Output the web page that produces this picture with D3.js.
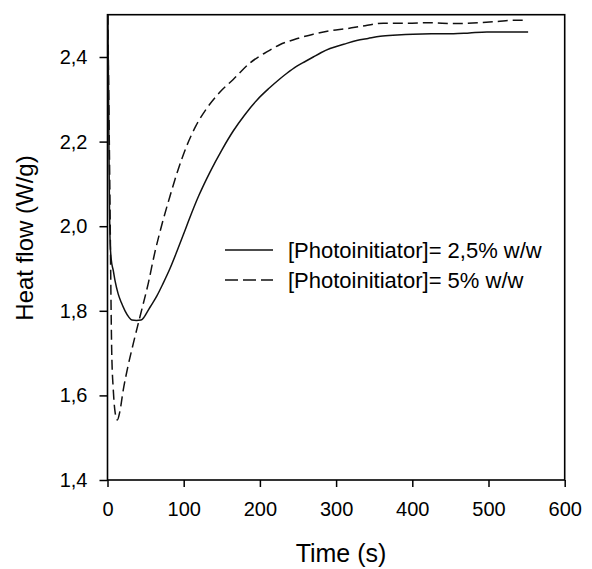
<!DOCTYPE html>
<html>
<head>
<meta charset="utf-8">
<script src="https://cdn.jsdelivr.net/npm/d3@7"></script>
<style>
  html, body { margin: 0; padding: 0; background: #fff; }
  svg { display: block; font-family: "Liberation Sans", Arial, sans-serif; }
</style>
</head>
<body>
<svg id="chart" width="592" height="569"></svg>
<script>
// ---- data ----
const solidTime = [0.5, 1.5, 2.5, 3.5, 5, 7.6, 10, 14, 18, 23, 28, 32, 38, 44, 48, 52, 56, 65, 73, 82, 91, 100, 108, 120, 134.5, 150, 165, 180, 196, 212, 226, 235, 248, 260, 270, 280, 292, 310, 327, 342, 358, 380, 401, 425, 454, 475, 498, 520, 552];
const solidHeat = [2.50, 2.28, 2.06, 1.96, 1.92, 1.895, 1.87, 1.84, 1.82, 1.80, 1.785, 1.778, 1.777, 1.778, 1.785, 1.797, 1.809, 1.836, 1.865, 1.900, 1.940, 1.982, 2.020, 2.073, 2.128, 2.180, 2.225, 2.263, 2.298, 2.326, 2.348, 2.361, 2.378, 2.390, 2.400, 2.410, 2.420, 2.430, 2.439, 2.444, 2.449, 2.452, 2.454, 2.455, 2.455, 2.457, 2.459, 2.459, 2.459];

const dashedTime = [0.5, 3, 5.5, 7.6, 10, 12.9, 16, 20.7, 27, 33.9, 42.6, 53.5, 62, 72, 82, 92, 104, 116, 130, 147, 165, 187, 209, 226, 248, 270, 292, 314, 338, 362, 392, 423, 455, 489, 512, 532, 550];
const dashedHeat = [2.50, 2.10, 1.707, 1.613, 1.560, 1.542, 1.560, 1.613, 1.670, 1.723, 1.786, 1.865, 1.937, 2.008, 2.071, 2.130, 2.190, 2.237, 2.278, 2.316, 2.347, 2.386, 2.412, 2.429, 2.443, 2.454, 2.462, 2.467, 2.474, 2.480, 2.480, 2.481, 2.479, 2.481, 2.484, 2.487, 2.487];

const seriesNames = ["[Photoinitiator]= 2,5% w/w", "[Photoinitiator]= 5% w/w"];
const xTicks = [0, 100, 200, 300, 400, 500, 600];
const yTicks = [1.4, 1.6, 1.8, 2.0, 2.2, 2.4];
const xDomain = [0, 600];
const yDomain = [1.4, 2.5];
const xTitle = "Time (s)";
const yTitle = "Heat flow (W/g)";

// ---- layout ----
const svg = d3.select("#chart");
const L = 107.5, R = 564.7, T = 14.7, B = 480;
const x = d3.scaleLinear().domain(xDomain).range([L, R]);
const y = d3.scaleLinear().domain(yDomain).range([B, T]);

svg.append("defs").append("clipPath").attr("id", "plotclip")
  .append("rect").attr("x", L).attr("y", T).attr("width", R - L).attr("height", B - T);

const fmt = d => d.toFixed(1).replace(".", ",");

const xAxis = svg.append("g").attr("transform", `translate(0,${B})`)
  .call(d3.axisBottom(x).tickValues(xTicks).tickSize(7).tickSizeOuter(0).tickPadding(15).tickFormat(d3.format("d")));
const yAxis = svg.append("g").attr("transform", `translate(${L},0)`)
  .call(d3.axisLeft(y).tickValues(yTicks).tickSize(8).tickSizeOuter(0).tickPadding(12).tickFormat(fmt));

[xAxis, yAxis].forEach(g => {
  g.select(".domain").remove();
  g.selectAll(".tick line").attr("stroke", "#000").attr("stroke-width", 1.5);
  g.selectAll(".tick text").attr("fill", "#000").style("font-size", "20px")
    .style("font-family", "'Liberation Sans', Arial, sans-serif");
});

// frame
svg.append("rect").attr("x", L).attr("y", T).attr("width", R - L).attr("height", B - T)
  .attr("fill", "none").attr("stroke", "#000").attr("stroke-width", 1.6);

// lines
const line = d3.line().x(d => x(d[0])).y(d => y(d[1])).curve(d3.curveMonotoneX);
const solidData = solidTime.map((t, i) => [t, solidHeat[i]]);
const dashedData = dashedTime.map((t, i) => [t, dashedHeat[i]]);

const plot = svg.append("g").attr("clip-path", "url(#plotclip)");
plot.append("path").datum(solidData).attr("d", line)
  .attr("fill", "none").attr("stroke", "#111").attr("stroke-width", 1.5);
plot.append("path").datum(dashedData).attr("d", line)
  .attr("fill", "none").attr("stroke", "#111").attr("stroke-width", 1.5)
  .attr("stroke-dasharray", "10,5");

// legend
const legend = svg.append("g");
[0, 1].forEach(i => {
  const yy = 250 + i * 30;
  legend.append("line").attr("x1", 225).attr("x2", 273).attr("y1", yy).attr("y2", yy)
    .attr("stroke", "#111").attr("stroke-width", 1.5)
    .attr("stroke-dasharray", i === 1 ? "13,5" : null);
  legend.append("text").attr("x", 288).attr("y", yy + 8.3)
    .attr("fill", "#000").style("font-size", "22px").text(seriesNames[i]);
});

// titles
svg.append("text").attr("x", 341).attr("y", 562).attr("text-anchor", "middle")
  .attr("fill", "#000").style("font-size", "25px").text(xTitle);
svg.append("text").attr("transform", "translate(33,238) rotate(-90)").attr("text-anchor", "middle")
  .attr("fill", "#000").style("font-size", "24px").text(yTitle);
</script>
</body>
</html>
